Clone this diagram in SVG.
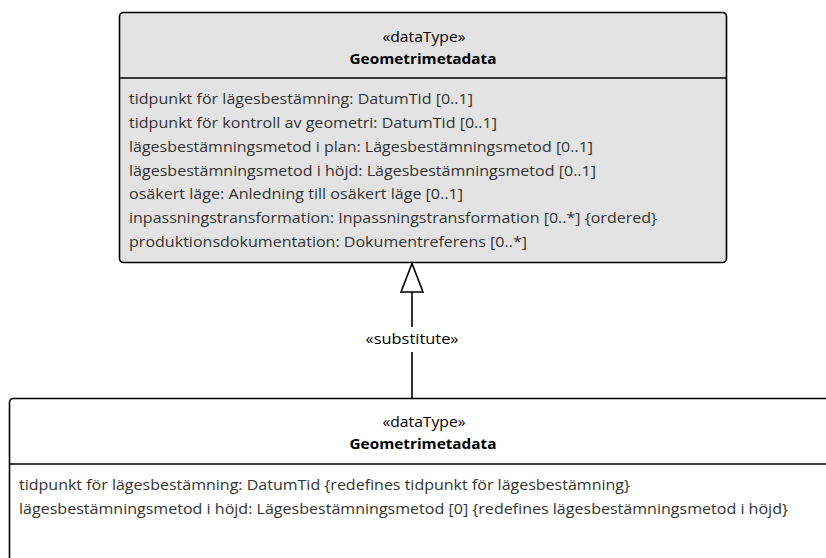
<svg xmlns="http://www.w3.org/2000/svg" width="826" height="558" viewBox="0 0 826 558">
<style>
.box{stroke:#000;stroke-width:1.6}
.t{font-family:"Open Sans","Liberation Sans",sans-serif;font-size:14px;fill:#333}
.st{font-family:"Open Sans","Liberation Sans",sans-serif;font-size:15px;fill:#000;text-anchor:middle}
.nm{font-family:"Open Sans","Liberation Sans",sans-serif;font-size:15px;font-weight:bold;fill:#000;text-anchor:middle}
.ln{stroke:#000;stroke-width:1.6;fill:none}
</style>
<rect width="826" height="558" fill="#fff"/>
<g id="parent">
<rect class="box" x="119.5" y="12.5" width="607" height="250" rx="4" fill="#e3e3e3"/>
<line class="ln" x1="119.5" y1="78" x2="726.5" y2="78"/>
<text class="st" x="424" y="42" textLength="83" lengthAdjust="spacingAndGlyphs">«dataType»</text>
<text class="nm" x="423" y="64" textLength="147" lengthAdjust="spacingAndGlyphs">Geometrimetadata</text>
<text class="t" x="129" y="104" textLength="344" lengthAdjust="spacingAndGlyphs">tidpunkt för lägesbestämning: DatumTid [0..1]</text>
<text class="t" x="129" y="128" textLength="368" lengthAdjust="spacingAndGlyphs">tidpunkt för kontroll av geometri: DatumTid [0..1]</text>
<text class="t" x="129" y="152" textLength="464" lengthAdjust="spacingAndGlyphs">lägesbestämningsmetod i plan: Lägesbestämningsmetod [0..1]</text>
<text class="t" x="129" y="176" textLength="467" lengthAdjust="spacingAndGlyphs">lägesbestämningsmetod i höjd: Lägesbestämningsmetod [0..1]</text>
<text class="t" x="129" y="199" textLength="334" lengthAdjust="spacingAndGlyphs">osäkert läge: Anledning till osäkert läge [0..1]</text>
<text class="t" x="129" y="223" textLength="528" lengthAdjust="spacingAndGlyphs">inpassningstransformation: Inpassningstransformation [0..*] {ordered}</text>
<text class="t" x="129" y="247" textLength="398" lengthAdjust="spacingAndGlyphs">produktionsdokumentation: Dokumentreferens [0..*]</text>
</g>
<g id="child">
<rect class="box" x="9.5" y="398.5" width="830" height="180" rx="4" fill="#fff"/>
<line class="ln" x1="9.5" y1="464" x2="826" y2="464"/>
<text class="st" x="424" y="427" textLength="83" lengthAdjust="spacingAndGlyphs">«dataType»</text>
<text class="nm" x="423" y="449" textLength="147" lengthAdjust="spacingAndGlyphs">Geometrimetadata</text>
<text class="t" x="19" y="490" textLength="611" lengthAdjust="spacingAndGlyphs">tidpunkt för lägesbestämning: DatumTid {redefines tidpunkt för lägesbestämning}</text>
<text class="t" x="19" y="514" textLength="769" lengthAdjust="spacingAndGlyphs">lägesbestämningsmetod i höjd: Lägesbestämningsmetod [0] {redefines lägesbestämningsmetod i höjd}</text>
</g>
<g id="connectors">
<line class="ln" x1="412" y1="292" x2="412" y2="327"/>
<line class="ln" x1="412" y1="352" x2="412" y2="398"/>
<polygon points="412,263.5 401,292 423,292" fill="#fff" stroke="#000" stroke-width="1.6"/>
<text class="st" x="412" y="344" textLength="93" lengthAdjust="spacingAndGlyphs">«substitute»</text>
</g>
</svg>
